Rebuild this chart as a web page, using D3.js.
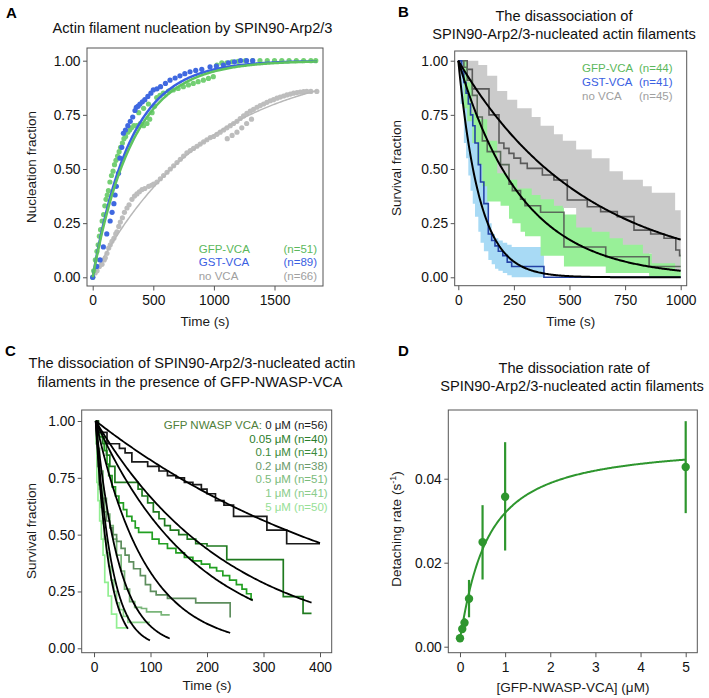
<!DOCTYPE html>
<html><head><meta charset="utf-8">
<script src="https://cdn.jsdelivr.net/npm/d3@7"></script>
<style>body{margin:0;background:#fff}</style>
</head><body>
<script>
// ================= DATA =================
// Panel A : nucleation fraction vs time
const aLabels = ["GFP-VCA", "GST-VCA", "no VCA"];
const aCounts = ["(n=51)", "(n=89)", "(n=66)"];
const aGfpPoints = [[0,0],[8,0.03],[22,0.08],[35,0.12],[45,0.15],[55,0.19],[65,0.22],[78,0.26],[90,0.29],[100,0.33],[110,0.36],[120,0.38],[130,0.40],[142,0.44],[155,0.47],[168,0.49],[180,0.52],[192,0.54],[205,0.56],[218,0.58],[230,0.60],[245,0.62],[258,0.64],[272,0.65],[290,0.67],[305,0.68],[320,0.69],[340,0.70],[365,0.70],[393,0.71],[420,0.70],[448,0.71],[470,0.73],[490,0.76],[510,0.79],[528,0.83],[555,0.84],[583,0.85],[625,0.86],[665,0.865],[705,0.872],[748,0.88],[790,0.888],[830,0.895],[870,0.903],[913,0.91],[955,0.918],[995,0.926],[380,0.76],[420,0.78],[460,0.80],[1025,0.98],[1065,0.99],[1107,0.99],[1150,0.995],[1200,0.997],[1260,1.0],[1320,1.0],[1380,1.0],[1440,1.0],[1500,1.0],[1560,1.0],[1620,1.0],[1680,1.0],[1740,1.0],[1800,1.0],[1840,1.0]];
const aGstPoints = [[0,0],[33,0.05],[61,0.08],[88,0.14],[116,0.20],[144,0.26],[160,0.30],[175,0.34],[185,0.38],[195,0.42],[213,0.48],[225,0.55],[240,0.60],[253,0.665],[270,0.68],[290,0.70],[310,0.72],[330,0.74],[349,0.77],[360,0.785],[375,0.79],[390,0.80],[410,0.81],[430,0.82],[455,0.835],[480,0.85],[500,0.865],[530,0.87],[560,0.88],[600,0.895],[638,0.91],[680,0.92],[720,0.93],[760,0.94],[803,0.949],[850,0.955],[900,0.96],[968,0.972],[1020,0.975],[1078,0.98],[1120,0.99],[1170,0.995],[1220,1.0],[1270,1.0],[1320,1.0]];
const aNoPoints = [[0,0],[20,0.02],[36,0.03],[55,0.05],[77,0.06],[95,0.08],[104,0.09],[118,0.11],[132,0.135],[145,0.15],[159,0.166],[175,0.18],[190,0.20],[200,0.21],[215,0.235],[228,0.255],[245,0.275],[262,0.30],[283,0.32],[300,0.335],[324,0.36],[345,0.375],[365,0.385],[385,0.395],[407,0.405],[430,0.41],[462,0.42],[485,0.425],[503,0.43],[530,0.44],[558,0.455],[585,0.47],[613,0.485],[640,0.50],[668,0.515],[695,0.53],[723,0.545],[750,0.56],[777,0.575],[805,0.585],[832,0.595],[860,0.605],[887,0.615],[915,0.625],[942,0.635],[970,0.645],[997,0.65],[1025,0.66],[1052,0.67],[1080,0.68],[1107,0.69],[1135,0.70],[1162,0.71],[1190,0.72],[1217,0.733],[1245,0.745],[1272,0.757],[1300,0.767],[1327,0.775],[1355,0.785],[1382,0.793],[1410,0.80],[1437,0.808],[1465,0.815],[1492,0.82],[1520,0.827],[1547,0.832],[1575,0.837],[1602,0.842],[1630,0.846],[1657,0.85],[1685,0.853],[1712,0.855],[1740,0.857],[1766,0.858],[1800,0.858],[1849,0.858],[1110,0.64],[1150,0.655],[1190,0.67],[1230,0.69],[1270,0.71],[1310,0.73]];
const aFitRates = [0.0030, 0.0032, 0.00107];   // GFP, GST, no VCA (1 - exp(-k t))
const aXTicks = [0, 500, 1000, 1500];
const fracTicks = [0, 0.25, 0.5, 0.75, 1];

// Panel B : survival (Kaplan-Meier) with confidence bands
const bLabels = ["GFP-VCA", "GST-VCA", "no VCA"];
const bCounts = ["(n=44)", "(n=41)", "(n=45)"];
const bGfpSteps = [[0,1],[25,0.97],[40,0.91],[63,0.84],[85,0.74],[108,0.63],[130,0.58],[190,0.52],[228,0.43],[243,0.40],[280,0.36],[300,0.33],[370,0.30],[475,0.14],[663,0.095],[858,0.05],[1000,0.05]];
const bGstSteps = [[0,1],[15,0.95],[25,0.90],[35,0.85],[45,0.80],[55,0.75],[65,0.70],[75,0.62],[90,0.52],[100,0.44],[115,0.34],[135,0.20],[150,0.17],[165,0.145],[180,0.12],[200,0.10],[220,0.07],[240,0.05],[385,0.0],[1000,0.0]];
const bNoSteps = [[0,1],[40,0.96],[63,0.87],[138,0.75],[183,0.62],[205,0.595],[228,0.572],[250,0.55],[280,0.526],[310,0.503],[378,0.472],[430,0.449],[490,0.357],[580,0.326],[640,0.303],[715,0.28],[790,0.218],[865,0.20],[925,0.18],[978,0.126],[995,0.10],[1000,0.10]];
const bGfpBand = [[0,1,1],[25,0.78,1.0],[40,0.72,0.99],[63,0.62,0.96],[85,0.52,0.90],[108,0.42,0.82],[130,0.35,0.77],[190,0.33,0.72],[228,0.27,0.63],[243,0.25,0.60],[280,0.21,0.55],[300,0.19,0.52],[370,0.10,0.45],[475,0.05,0.29],[663,0.02,0.24],[858,0.0,0.11],[1000,0.0,0.11]];
const bGstBand = [[0,1,1],[10,0.80,1.0],[25,0.62,0.97],[35,0.55,0.93],[45,0.47,0.88],[55,0.40,0.83],[65,0.34,0.78],[75,0.28,0.72],[90,0.21,0.62],[100,0.16,0.55],[115,0.12,0.44],[135,0.08,0.25],[150,0.06,0.20],[165,0.04,0.18],[180,0.03,0.17],[200,0.02,0.16],[220,0.01,0.15],[240,0.0,0.14],[385,0,0]];
const bNoBand = [[0,1,1],[40,0.90,1.0],[63,0.76,1.0],[90,0.73,0.98],[130,0.63,0.93],[175,0.48,0.86],[220,0.45,0.82],[265,0.41,0.78],[330,0.38,0.74],[370,0.36,0.70],[430,0.33,0.66],[470,0.32,0.63],[530,0.23,0.59],[600,0.21,0.55],[680,0.18,0.49],[740,0.15,0.45],[830,0.11,0.42],[870,0.065,0.39],[975,0.03,0.31],[1000,0.03,0.31]];
const bFitRates = [0.0035, 0.0105, 0.00175];  // GFP, GST, no VCA (exp(-k t))
const bXTicks = [0, 250, 500, 750, 1000];

// Panel C : survival at increasing GFP-NWASP-VCA
const cConc = ["0 μM", "0.05 μM", "0.1 μM", "0.2 μM", "0.5 μM", "1 μM", "5 μM"];
const cCounts = ["(n=56)", "(n=40)", "(n=41)", "(n=38)", "(n=51)", "(n=41)", "(n=50)"];
const cSteps0 = [[3,1],[7,0.95],[23,0.90],[45,0.88],[55,0.86],[67,0.82],[95,0.80],[115,0.78],[130,0.76],[145,0.75],[160,0.73],[175,0.72],[190,0.70],[200,0.68],[215,0.65],[230,0.63],[247,0.58],[306,0.52],[341,0.46],[400,0.46]];
const cSteps005 = [[3,1],[8,0.95],[15,0.90],[22,0.85],[28,0.80],[37,0.73],[78,0.70],[85,0.67],[95,0.64],[105,0.60],[115,0.57],[125,0.54],[135,0.52],[150,0.50],[165,0.48],[180,0.46],[200,0.45],[235,0.39],[335,0.227],[370,0.154],[385,0.154]];
const cSteps01 = [[3,1],[6,0.96],[10,0.93],[18,0.87],[23,0.81],[26,0.76],[32,0.71],[38,0.67],[44,0.64],[52,0.61],[58,0.58],[67,0.56],[73,0.53],[79,0.51],[103,0.48],[115,0.46],[130,0.44],[145,0.42],[160,0.40],[175,0.385],[190,0.37],[205,0.355],[217,0.34],[228,0.32],[240,0.30],[252,0.28],[262,0.26],[270,0.24],[278,0.215],[281,0.215]];
const cSteps02 = [[3,1],[5,0.90],[7,0.80],[9,0.72],[12,0.66],[18,0.60],[22,0.56],[28,0.53],[33,0.50],[40,0.47],[48,0.44],[55,0.41],[62,0.38],[70,0.35],[82,0.32],[91,0.28],[100,0.25],[110,0.235],[130,0.22],[180,0.20],[241,0.135],[241,0.135]];
const cSteps05 = [[3,1],[7,0.88],[10,0.78],[16,0.66],[22,0.59],[28,0.54],[34,0.48],[40,0.41],[48,0.34],[54,0.26],[63,0.205],[72,0.18],[84,0.175],[93,0.16],[119,0.147],[134,0.147]];
const cSteps1 = [[3,1],[4,0.90],[6,0.80],[9,0.70],[12,0.62],[15,0.55],[18,0.48],[22,0.42],[26,0.36],[30,0.30],[35,0.25],[40,0.20],[45,0.17],[52,0.14],[60,0.114],[99,0.114]];
const cSteps5 = [[3,1],[4,0.90],[5,0.73],[7,0.65],[10,0.56],[13,0.48],[16,0.41],[19,0.29],[25,0.23],[31,0.15],[40,0.09],[60,0.09]];
const cFitRates = [0.00194, 0.0042, 0.0056, 0.0113, 0.024, 0.035, 0.043];
const cXTicks = [0, 100, 200, 300, 400];

// Panel D : detaching rate vs [GFP-NWASP-VCA]
const dConc = [0, 0.05, 0.1, 0.2, 0.5, 1, 5];
const dRate = [0.0020, 0.0042, 0.0057, 0.0114, 0.0249, 0.0357, 0.0428];
const dErrLow = [0.0016, 0.0036, 0.0048, 0.0070, 0.0160, 0.0229, 0.0318];
const dErrHigh = [0.0024, 0.0048, 0.0068, 0.0159, 0.0337, 0.0487, 0.0537];
const dFitParams = [0.002, 0.0466, 0.59, 1.1];   // base, Vmax, K, Hill n
const dXTicks = [0, 1, 2, 3, 4, 5];
const dYTicks = [0, 0.02, 0.04];

// ================= DRAWING =================
const FF = "'Liberation Sans', Arial, Helvetica, sans-serif";
const svg = d3.select("body").append("svg")
  .attr("width", 709).attr("height", 698)
  .style("font-family", FF);

function scales(box, xDom, yDom) {
  return {
    x: d3.scaleLinear().domain(xDom).range([box.l, box.r]),
    y: d3.scaleLinear().domain(yDom).range([box.b, box.t])
  };
}
function axes(box, s, xTicks, yTicks, xFmt, yFmt) {
  const gx = svg.append("g").attr("transform", `translate(0,${box.b})`)
    .call(d3.axisBottom(s.x).tickValues(xTicks).tickSize(4.5).tickPadding(5).tickFormat(xFmt));
  const gy = svg.append("g").attr("transform", `translate(${box.l},0)`)
    .call(d3.axisLeft(s.y).tickValues(yTicks).tickSize(4).tickPadding(2.5).tickFormat(yFmt));
  [gx, gy].forEach(g => {
    g.select(".domain").remove();
    g.selectAll(".tick line").attr("stroke", "#555").attr("stroke-width", 1);
    g.selectAll(".tick text").attr("fill", "#111").style("font-size", "13.8px").style("font-family", FF);
  });
}
function frame(box) {
  svg.append("rect").attr("x", box.l).attr("y", box.t)
    .attr("width", box.r - box.l).attr("height", box.b - box.t)
    .attr("fill", "none").attr("stroke", "#555").attr("stroke-width", 1);
}
function clip(id, box) {
  svg.append("clipPath").attr("id", id).append("rect")
    .attr("x", box.l).attr("y", box.t).attr("width", box.r - box.l).attr("height", box.b - box.t);
}
function text(x, y, str, opt = {}) {
  const t = svg.append("text").attr("x", x).attr("y", y).text(str)
    .style("font-size", (opt.size || 13.5) + "px")
    .attr("fill", opt.fill || "#1a1a1a")
    .attr("text-anchor", opt.anchor || "start");
  if (opt.bold) t.style("font-weight", "bold");
  if (opt.rotate) t.attr("transform", `rotate(-90,${x},${y})`);
  return t;
}
const fmt2 = d3.format(".2f");
const fmtInt = d3.format("d");

// ---------- Panel A ----------
{
  const box = {l: 87, r: 323, t: 48, b: 286};
  const s = scales(box, [-47, 1900], [-0.0402, 1.0586]);
  clip("clipA", box);
  const g = svg.append("g").attr("clip-path", "url(#clipA)");
  const ptCol = ["#74cf74", "#3f68e0", "#bdbdbd"];
  const lineCol = ["#5fc35f", "#3a60e2", "#b8b8b8"];
  const tSamp = d3.range(0, 1851, 10);
  const fitLine = k => tSamp.map(t => [t, 1 - Math.exp(-k * t)]);
  const line = d3.line().x(d => s.x(d[0])).y(d => s.y(d[1]));
  g.selectAll(".pn").data(aNoPoints).join("circle").attr("cx", d => s.x(d[0])).attr("cy", d => s.y(d[1])).attr("r", 2.6).attr("fill", ptCol[2]);
  g.append("path").attr("d", line(fitLine(aFitRates[2]))).attr("fill", "none").attr("stroke", lineCol[2]).attr("stroke-width", 1.5);
  g.selectAll(".pg").data(aGfpPoints).join("circle").attr("cx", d => s.x(d[0])).attr("cy", d => s.y(d[1])).attr("r", 2.6).attr("fill", ptCol[0]);
  g.selectAll(".pb").data(aGstPoints).join("circle").attr("cx", d => s.x(d[0])).attr("cy", d => s.y(d[1])).attr("r", 2.6).attr("fill", ptCol[1]);
  g.append("path").attr("d", line(fitLine(aFitRates[1]))).attr("fill", "none").attr("stroke", lineCol[1]).attr("stroke-width", 2.5);
  g.append("path").attr("d", line(fitLine(aFitRates[0]))).attr("fill", "none").attr("stroke", lineCol[0]).attr("stroke-width", 2.5);
  frame(box);
  axes(box, s, aXTicks, fracTicks, fmtInt, fmt2);
  const legCol = ["#5cb85c", "#3a60e2", "#a0a0a0"];
  aLabels.forEach((lab, i) => {
    text(198.7, 252.5 + i * 13.7, lab, {size: 11.5, fill: legCol[i]});
    text(317, 252.5 + i * 13.7, aCounts[i], {size: 11.5, fill: legCol[i], anchor: "end"});
  });
  text(192.5, 33, "Actin filament nucleation by SPIN90-Arp2/3", {size: 14.6, anchor: "middle", fill: "#111"});
  text(205, 326, "Time (s)", {anchor: "middle"});
  text(36, 167, "Nucleation fraction", {anchor: "middle", rotate: true});
  text(6, 18, "A", {size: 15, bold: true, fill: "#000"});
}

// ---------- Panel B ----------
{
  const box = {l: 454.7, r: 686.7, t: 51, b: 285.7};
  const s = scales(box, [-16.2, 1027], [-0.0388, 1.0448]);
  clip("clipB", box);
  const g = svg.append("g").attr("clip-path", "url(#clipB)");
  const area = d3.area().curve(d3.curveStepAfter).x(d => s.x(d[0])).y0(d => s.y(d[1])).y1(d => s.y(d[2]));
  const step = d3.line().curve(d3.curveStepAfter).x(d => s.x(d[0])).y(d => s.y(d[1]));
  g.append("path").attr("d", area(bGstBand)).attr("fill", "#a8daf5");
  g.append("path").attr("d", area(bGfpBand)).attr("fill", "#98f098");
  g.append("path").attr("d", area(bNoBand)).attr("fill", "#cbcbcb");
  g.append("path").attr("d", step(bNoSteps)).attr("fill", "none").attr("stroke", "#5a5a5a").attr("stroke-width", 1.6);
  g.append("path").attr("d", step(bGfpSteps)).attr("fill", "none").attr("stroke", "#5b6b5b").attr("stroke-width", 1.6);
  g.append("path").attr("d", step(bGstSteps)).attr("fill", "none").attr("stroke", "#2443a6").attr("stroke-width", 1.6);
  const tSamp = d3.range(0, 1001, 5);
  const line = d3.line().x(d => s.x(d[0])).y(d => s.y(d[1]));
  bFitRates.forEach(k => {
    g.append("path").attr("d", line(tSamp.map(t => [t, Math.exp(-k * t)]))).attr("fill", "none").attr("stroke", "#000").attr("stroke-width", 2);
  });
  frame(box);
  axes(box, s, bXTicks, fracTicks, fmtInt, fmt2);
  const legCol = ["#5cb85c", "#3a60e2", "#a0a0a0"];
  bLabels.forEach((lab, i) => {
    text(582, 72 + i * 14, lab, {size: 11.5, fill: legCol[i]});
    text(639, 72 + i * 14, bCounts[i], {size: 11.5, fill: legCol[i]});
  });
  text(564, 21, "The disassociation of", {size: 14.6, anchor: "middle", fill: "#111"});
  text(564, 39, "SPIN90-Arp2/3-nucleated actin filaments", {size: 14.6, anchor: "middle", fill: "#111"});
  text(570.7, 326, "Time (s)", {anchor: "middle"});
  text(401, 168, "Survival fraction", {anchor: "middle", rotate: true});
  text(398, 17, "B", {size: 15, bold: true, fill: "#000"});
}

// ---------- Panel C ----------
{
  const box = {l: 81.7, r: 331.7, t: 410, b: 652.7};
  const s = scales(box, [-21.8, 420.7], [-0.0194, 1.0484]);
  clip("clipC", box);
  const g = svg.append("g").attr("clip-path", "url(#clipC)");
  const steps = [cSteps0, cSteps005, cSteps01, cSteps02, cSteps05, cSteps1, cSteps5];
  const cols = ["#1a1a1a", "#1f7a1f", "#22a022", "#5e8e5e", "#79b579", "#8ed68e", "#92ef92"];
  const step = d3.line().curve(d3.curveStepAfter).x(d => s.x(d[0])).y(d => s.y(d[1]));
  const line = d3.line().x(d => s.x(d[0])).y(d => s.y(d[1]));
  for (let i = steps.length - 1; i >= 0; i--) {
    g.append("path").attr("d", step(steps[i])).attr("fill", "none").attr("stroke", cols[i]).attr("stroke-width", 1.7);
  }
  steps.forEach((st, i) => {
    const t0 = st[0][0], t1 = st[st.length - 1][0];
    const ts = d3.range(t0, t1 + 0.001, (t1 - t0) / 120);
    g.append("path").attr("d", line(ts.map(t => [t, Math.exp(-cFitRates[i] * (t - t0))])))
      .attr("fill", "none").attr("stroke", "#000").attr("stroke-width", 1.8);
  });
  frame(box);
  axes(box, s, cXTicks, fracTicks, fmtInt, fmt2);
  const legCol = ["#1a1a1a", "#2a7d2a", "#3a8a3a", "#6a9a6a", "#7aba7a", "#8acc8a", "#96e096"];
  cConc.forEach((c, i) => {
    const t = svg.append("text").attr("x", 327.7).attr("y", 429 + i * 13.6).attr("text-anchor", "end")
      .style("font-size", "11.5px").attr("fill", legCol[i]);
    if (i === 0) t.append("tspan").attr("fill", "#4f7f3a").text("GFP NWASP VCA: ");
    t.append("tspan").text(c + " " + cCounts[i]);
  });
  text(192, 368, "The dissociation of SPIN90-Arp2/3-nucleated actin", {size: 14.6, anchor: "middle", fill: "#111"});
  text(190, 387, "filaments in the presence of GFP-NWASP-VCA", {size: 14.6, anchor: "middle", fill: "#111"});
  text(207, 690, "Time (s)", {anchor: "middle"});
  text(36, 531, "Survival fraction", {anchor: "middle", rotate: true});
  text(5, 356, "C", {size: 15, bold: true, fill: "#000"});
}

// ---------- Panel D ----------
{
  const box = {l: 448.3, r: 697.3, t: 410, b: 652.7};
  const s = scales(box, [-0.259, 5.257], [-0.00143, 0.05636]);
  const col = "#2e962e";
  const [base, vmax, kk, nh] = dFitParams;
  const cs = d3.range(0, 5.0001, 0.02);
  const line = d3.line().x(d => s.x(d[0])).y(d => s.y(d[1]));
  svg.append("path").attr("d", line(cs.map(c => [c, base + vmax * Math.pow(c, nh) / (Math.pow(kk, nh) + Math.pow(c, nh))])))
    .attr("fill", "none").attr("stroke", col).attr("stroke-width", 2);
  svg.selectAll(".err").data(dConc).join("line")
    .attr("x1", d => s.x(d)).attr("x2", d => s.x(d))
    .attr("y1", (d, i) => s.y(dErrLow[i])).attr("y2", (d, i) => s.y(dErrHigh[i]))
    .attr("stroke", col).attr("stroke-width", 2.2);
  svg.selectAll(".pt").data(dConc).join("circle")
    .attr("cx", d => s.x(d)).attr("cy", (d, i) => s.y(dRate[i])).attr("r", 4.2).attr("fill", col);
  frame(box);
  axes(box, s, dXTicks, dYTicks, fmtInt, fmt2);
  text(574, 373, "The dissociation rate of", {size: 14.6, anchor: "middle", fill: "#111"});
  text(572, 391, "SPIN90-Arp2/3-nucleated actin filaments", {size: 14.6, anchor: "middle", fill: "#111"});
  text(573, 692, "[GFP-NWASP-VCA] (μM)", {anchor: "middle"});
  const yl = svg.append("text").attr("x", 401).attr("y", 529).attr("text-anchor", "middle")
    .attr("transform", "rotate(-90,401,529)").style("font-size", "13.5px").attr("fill", "#1a1a1a");
  yl.append("tspan").text("Detaching rate (s");
  yl.append("tspan").attr("dy", -5).style("font-size", "9px").text("-1");
  yl.append("tspan").attr("dy", 5).text(")");
  text(398, 356, "D", {size: 15, bold: true, fill: "#000"});
}
</script>
</body></html>
